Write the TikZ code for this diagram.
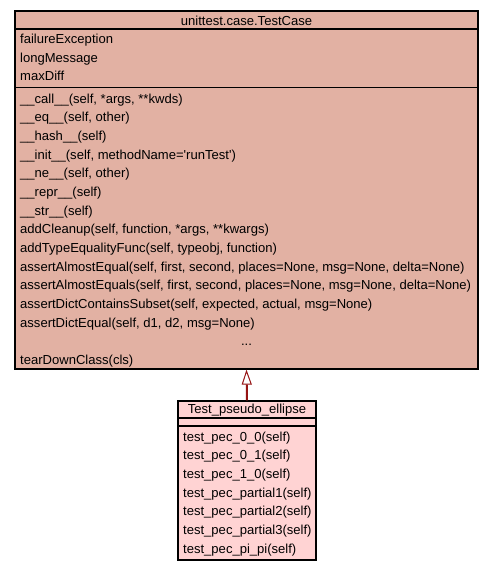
\documentclass[tikz,border=0pt]{standalone}
\usepackage{fontspec}
\setmainfont{Liberation Sans}
\usetikzlibrary{arrows.meta}
\definecolor{baseclr}{RGB}{226,177,163}
\definecolor{subclr}{RGB}{255,211,211}
\definecolor{inhclr}{RGB}{150,20,20}
\tikzset{
  classbox/.style={draw=black, line width=1.2pt, inner sep=0pt},
  member/.style={anchor=base west, inner sep=0pt, font=\fontsize{13.05}{15}\selectfont},
  classname/.style={anchor=base, inner sep=0pt, font=\fontsize{13.05}{15}\selectfont},
}
\begin{document}
\begin{tikzpicture}[x=1pt,y=-1pt]
     \useasboundingbox (0,0) rectangle (493,571);
     \node[classbox, fill=baseclr, minimum width=463pt, minimum height=358pt] (testcase) at (246.5,190) {};
     \node[classbox, fill=subclr, minimum width=138pt, minimum height=159pt] (pseudo) at (247,480.5) {};
     \draw[line width=1.2pt] (testcase.west |- 0,29) -- (testcase.east |- 0,29);
     \draw[line width=1.2pt] (testcase.west |- 0,87.5) -- (testcase.east |- 0,87.5);
     \draw[line width=1.2pt] (pseudo.west |- 0,418) -- (pseudo.east |- 0,418);
     \draw[line width=1.2pt] (pseudo.west |- 0,426) -- (pseudo.east |- 0,426);
     \node[classname] (tcname) at (246.5,25) {unittest.case.TestCase};
     \node[classname] (pename) at (247,413.5) {Test\_pseudo\_ellipse};
     \foreach \a [count=\i] in {failureException, longMessage, maxDiff}
       \node[member] (attr\i) at (20,43.5+18.7*\i-18.7) {\a};
     \foreach \m [count=\i] in {
         {\_\_call\_\_(self, *args, **kwds)},
         {\_\_eq\_\_(self, other)},
         {\_\_hash\_\_(self)},
         {\_\_init\_\_(self, methodName=\textquotesingle runTest\textquotesingle)},
         {\_\_ne\_\_(self, other)},
         {\_\_repr\_\_(self)},
         {\_\_str\_\_(self)},
         {addCleanup(self, function, *args, **kwargs)},
         {addTypeEqualityFunc(self, typeobj, function)},
         {assertAlmostEqual(self, first, second, places=None, msg=None, delta=None)},
         {assertAlmostEquals(self, first, second, places=None, msg=None, delta=None)},
         {assertDictContainsSubset(self, expected, actual, msg=None)},
         {assertDictEqual(self, d1, d2, msg=None)}}
       \node[member] (meth\i) at (20,103+18.67*\i-18.67) {\m};
     \node[classname] (more) at (246.5,345) {...};
     \node[member] (meth15) at (20,364.4) {tearDownClass(cls)};
     \foreach \t [count=\i] in {0\_0, 0\_1, 1\_0, partial1, partial2, partial3, pi\_pi}
       \node[member] (test\i) at (183,441+18.7*\i-18.7) {test\_pec\_\t(self)};
     \draw[inhclr, line width=2pt, -{Triangle[length=15pt, width=10pt, fill=white, line width=1pt]}] (pseudo.north) -- (testcase.south);
\end{tikzpicture}
\end{document}
